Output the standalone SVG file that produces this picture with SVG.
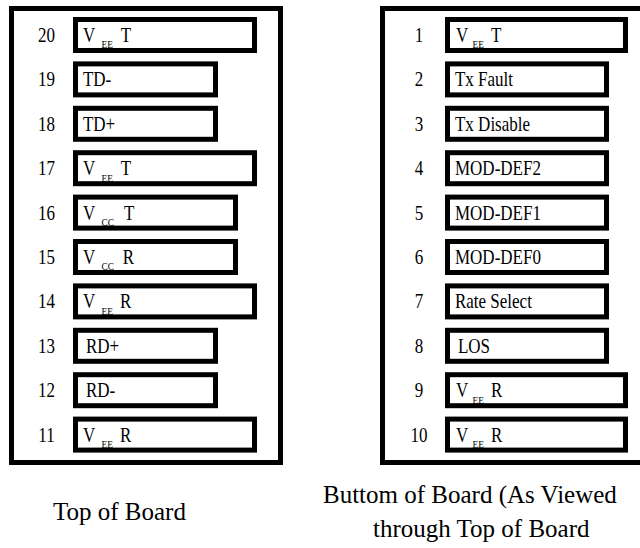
<svg xmlns="http://www.w3.org/2000/svg" width="640" height="548" viewBox="0 0 640 548" font-family="'Liberation Serif','Times New Roman',serif">
<style>
.frame{fill:#fff;stroke:#000;stroke-width:5}
.box{fill:#fff;stroke:#000;stroke-width:5}
text{font-family:"Liberation Serif","Times New Roman","DejaVu Serif",serif;fill:#000}
.t{font-size:20px}
.num{font-size:20px;text-anchor:middle}
.sub{font-size:11px}
.cap{font-size:25px}
</style>
<rect width="640" height="548" fill="#fff"/>
<g id="frame-top">
<rect class="frame" x="11.5" y="8.5" width="269" height="454"/>
</g>
<g id="frame-bottom">
<rect class="frame" x="382.5" y="8.5" width="270" height="454"/>
</g>
<g id="connectors"></g>

<!-- Left column (Top of Board) -->
<g id="pin20" transform="translate(0,17)">
<rect class="box" x="75.5" y="2.5" width="179" height="31"/>
<g transform="scale(0.85,1)"><text class="num" x="54.7" y="25">20</text><text class="t" x="97.6" y="25">V</text><text class="sub" x="119.5" y="31.5">EE</text><text class="t" x="142" y="25">T</text></g>
</g>
<g id="pin19" transform="translate(0,61.4)">
<rect class="box" x="75.5" y="2.5" width="140" height="31"/>
<g transform="scale(0.85,1)"><text class="num" x="54.7" y="25">19</text><text class="t" x="97.6" y="25">TD-</text></g>
</g>
<g id="pin18" transform="translate(0,105.8)">
<rect class="box" x="75.5" y="2.5" width="140" height="31"/>
<g transform="scale(0.85,1)"><text class="num" x="54.7" y="25">18</text><text class="t" x="97.6" y="25">TD+</text></g>
</g>
<g id="pin17" transform="translate(0,150.2)">
<rect class="box" x="75.5" y="2.5" width="179" height="31"/>
<g transform="scale(0.85,1)"><text class="num" x="54.7" y="25">17</text><text class="t" x="97.6" y="25">V</text><text class="sub" x="119.5" y="31.5">EE</text><text class="t" x="142" y="25">T</text></g>
</g>
<g id="pin16" transform="translate(0,194.6)">
<rect class="box" x="75.5" y="2.5" width="160" height="31"/>
<g transform="scale(0.85,1)"><text class="num" x="54.7" y="25">16</text><text class="t" x="97.6" y="25">V</text><text class="sub" x="119.5" y="31.5">CC</text><text class="t" x="145.9" y="25">T</text></g>
</g>
<g id="pin15" transform="translate(0,239)">
<rect class="box" x="75.5" y="2.5" width="160" height="31"/>
<g transform="scale(0.85,1)"><text class="num" x="54.7" y="25">15</text><text class="t" x="97.6" y="25">V</text><text class="sub" x="119.5" y="31.5">CC</text><text class="t" x="144.4" y="25">R</text></g>
</g>
<g id="pin14" transform="translate(0,283.4)">
<rect class="box" x="75.5" y="2.5" width="179" height="31"/>
<g transform="scale(0.85,1)"><text class="num" x="54.7" y="25">14</text><text class="t" x="97.6" y="25">V</text><text class="sub" x="119.5" y="31.5">EE</text><text class="t" x="141.2" y="25">R</text></g>
</g>
<g id="pin13" transform="translate(0,327.8)">
<rect class="box" x="75.5" y="2.5" width="140" height="31"/>
<g transform="scale(0.85,1)"><text class="num" x="54.7" y="25">13</text><text class="t" x="101.2" y="25">RD+</text></g>
</g>
<g id="pin12" transform="translate(0,372.2)">
<rect class="box" x="75.5" y="2.5" width="140" height="31"/>
<g transform="scale(0.85,1)"><text class="num" x="54.7" y="25">12</text><text class="t" x="101.2" y="25">RD-</text></g>
</g>
<g id="pin11" transform="translate(0,416.6)">
<rect class="box" x="75.5" y="2.5" width="179" height="31"/>
<g transform="scale(0.85,1)"><text class="num" x="54.7" y="25">11</text><text class="t" x="97.6" y="25">V</text><text class="sub" x="119.5" y="31.5">EE</text><text class="t" x="141.2" y="25">R</text></g>
</g>

<!-- Right column (Bottom of Board) -->
<g id="pin1" transform="translate(0,17)">
<rect class="box" x="447.5" y="2.5" width="178" height="31"/>
<g transform="scale(0.85,1)"><text class="num" x="492.9" y="25">1</text><text class="t" x="536.5" y="25">V</text><text class="sub" x="556" y="31.5">EE</text><text class="t" x="577.6" y="25">T</text></g>
</g>
<g id="pin2" transform="translate(0,61.4)">
<rect class="box" x="447.5" y="2.5" width="159" height="31"/>
<g transform="scale(0.85,1)"><text class="num" x="492.9" y="25">2</text><text class="t" x="535.3" y="25">Tx Fault</text></g>
</g>
<g id="pin3" transform="translate(0,105.8)">
<rect class="box" x="447.5" y="2.5" width="159" height="31"/>
<g transform="scale(0.85,1)"><text class="num" x="492.9" y="25">3</text><text class="t" x="535.3" y="25">Tx Disable</text></g>
</g>
<g id="pin4" transform="translate(0,150.2)">
<rect class="box" x="447.5" y="2.5" width="159" height="31"/>
<g transform="scale(0.85,1)"><text class="num" x="492.9" y="25">4</text><text class="t" x="535.3" y="25">MOD-DEF2</text></g>
</g>
<g id="pin5" transform="translate(0,194.6)">
<rect class="box" x="447.5" y="2.5" width="159" height="31"/>
<g transform="scale(0.85,1)"><text class="num" x="492.9" y="25">5</text><text class="t" x="535.3" y="25">MOD-DEF1</text></g>
</g>
<g id="pin6" transform="translate(0,239)">
<rect class="box" x="447.5" y="2.5" width="159" height="31"/>
<g transform="scale(0.85,1)"><text class="num" x="492.9" y="25">6</text><text class="t" x="535.3" y="25">MOD-DEF0</text></g>
</g>
<g id="pin7" transform="translate(0,283.4)">
<rect class="box" x="447.5" y="2.5" width="159" height="31"/>
<g transform="scale(0.85,1)"><text class="num" x="492.9" y="25">7</text><text class="t" x="535.3" y="25">Rate Select</text></g>
</g>
<g id="pin8" transform="translate(0,327.8)">
<rect class="box" x="447.5" y="2.5" width="159" height="31"/>
<g transform="scale(0.85,1)"><text class="num" x="492.9" y="25">8</text><text class="t" x="538.8" y="25">LOS</text></g>
</g>
<g id="pin9" transform="translate(0,372.2)">
<rect class="box" x="447.5" y="2.5" width="178" height="31"/>
<g transform="scale(0.85,1)"><text class="num" x="492.9" y="25">9</text><text class="t" x="536.5" y="25">V</text><text class="sub" x="556" y="31.5">EE</text><text class="t" x="577.6" y="25">R</text></g>
</g>
<g id="pin10" transform="translate(0,416.6)">
<rect class="box" x="447.5" y="2.5" width="178" height="31"/>
<g transform="scale(0.85,1)"><text class="num" x="492.9" y="25">10</text><text class="t" x="536.5" y="25">V</text><text class="sub" x="556" y="31.5">EE</text><text class="t" x="577.6" y="25">R</text></g>
</g>

<g id="captions">
<text class="cap" x="53" y="520">Top of Board</text>
<text class="cap" x="323" y="503">Buttom of Board (As Viewed</text>
<text class="cap" x="373" y="537">through Top of Board</text>
</g>
</svg>
